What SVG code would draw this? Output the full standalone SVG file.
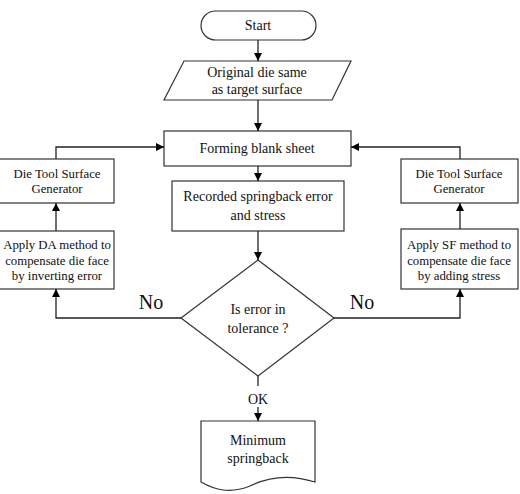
<svg xmlns="http://www.w3.org/2000/svg" width="520" height="494" viewBox="0 0 520 494">
<defs>
<marker id="ah" viewBox="0 0 10 10" refX="10" refY="5" markerWidth="8" markerHeight="8" markerUnits="userSpaceOnUse" orient="auto"><path d="M0,0 L10,5 L0,10 z" fill="#000"/></marker>
</defs>
<style>
.s{fill:#fff;stroke:#333;stroke-width:1.2}
.t{font-family:"Liberation Serif","Times New Roman",serif;font-size:14px;fill:#111;text-anchor:middle}
.sm{font-size:12.8px}
.big{font-size:20px}
.c{fill:none;stroke:#222;stroke-width:1.3}
</style>
<rect width="520" height="494" fill="#fff"/>
<g id="start"><rect class="s" x="201" y="11" width="115" height="29" rx="14.5"/><text class="t" x="258" y="30">Start</text></g>
<g id="original"><path class="s" d="M184,61 L351,61 L332,100 L164,100 Z"/><text class="t" x="257" y="77">Original die same</text><text class="t" x="257" y="94">as target surface</text></g>
<g id="forming"><rect class="s" x="164" y="131" width="187" height="35"/><text class="t" x="257" y="153">Forming blank sheet</text></g>
<g id="recorded"><rect class="s" x="172" y="181" width="172" height="50"/><text class="t" x="258" y="201">Recorded springback error</text><text class="t" x="258" y="220">and stress</text></g>
<g id="decision"><path class="s" d="M258,260 L334,318 L258,376 L181,318 Z"/><text class="t" x="258" y="314">Is error in</text><text class="t" x="258" y="333">tolerance  ?</text></g>
<g id="minimum"><path class="s" d="M201,421 L315,421 L315,482 C290,474 270,476 250,486 C230,494 215,490 201,482 Z"/><text class="t" x="258" y="445">Minimum</text><text class="t" x="258" y="463">springback</text></g>
<g id="dtsg-left"><rect class="s" x="-1" y="159" width="115" height="44"/><text class="t sm" x="57" y="178">Die Tool Surface</text><text class="t sm" x="57" y="193">Generator</text></g>
<g id="da"><rect class="s" x="-1" y="231" width="115" height="58"/><text class="t sm" x="57" y="249">Apply DA method to</text><text class="t sm" x="57" y="265">compensate die face</text><text class="t sm" x="57" y="280">by inverting error</text></g>
<g id="dtsg-right"><rect class="s" x="401" y="159" width="117" height="44"/><text class="t sm" x="459" y="178">Die Tool Surface</text><text class="t sm" x="459" y="193">Generator</text></g>
<g id="sf"><rect class="s" x="401" y="229" width="117" height="60"/><text class="t sm" x="459" y="249">Apply SF method to</text><text class="t sm" x="459" y="265">compensate die face</text><text class="t sm" x="459" y="280">by adding stress</text></g>
<g id="connectors">
<path class="c" d="M258,40 L258,61" marker-end="url(#ah)"/>
<path class="c" d="M258,100 L258,131" marker-end="url(#ah)"/>
<path class="c" d="M258,166 L258,181" marker-end="url(#ah)"/>
<path class="c" d="M258,231 L258,260" marker-end="url(#ah)"/>
<path class="c" d="M258,376 L258,386"/>
<path class="c" d="M258,407 L258,421" marker-end="url(#ah)"/>
<path class="c" d="M181,318 L56,318 L56,289" marker-end="url(#ah)"/>
<path class="c" d="M56,231 L56,203" marker-end="url(#ah)"/>
<path class="c" d="M56,159 L56,147 L164,147" marker-end="url(#ah)"/>
<path class="c" d="M334,318 L460,318 L460,289" marker-end="url(#ah)"/>
<path class="c" d="M460,229 L460,203" marker-end="url(#ah)"/>
<path class="c" d="M460,159 L460,147 L351,147" marker-end="url(#ah)"/>
<text class="t big" x="151" y="309">No</text>
<text class="t big" x="362" y="309">No</text>
<text class="t" x="258" y="404">OK</text>
</g>
</svg>
